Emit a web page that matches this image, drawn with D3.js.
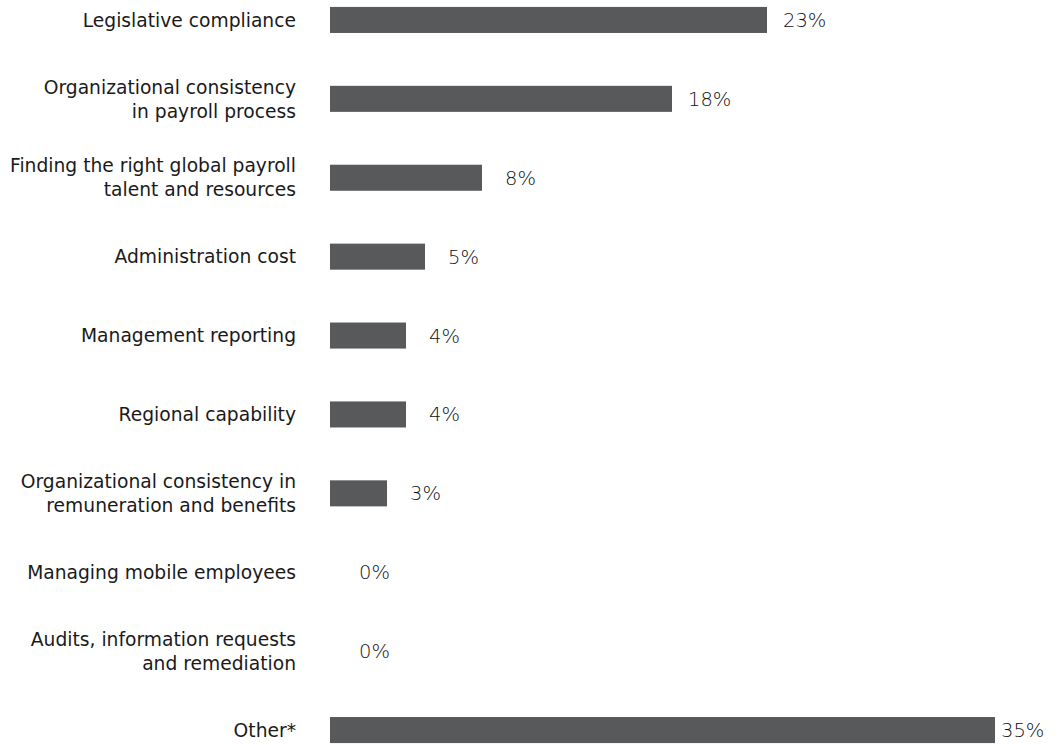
<!DOCTYPE html>
<html><head><meta charset="utf-8">
<script src="https://cdn.jsdelivr.net/npm/d3@7"></script>
<style>body{margin:0;background:#fff}svg{display:block}</style>
</head><body>
<svg id="chart" width="1061" height="745"></svg>
<script>
const categories = [
  "Legislative compliance",
  "Organizational consistency\nin payroll process",
  "Finding the right global payroll\ntalent and resources",
  "Administration cost",
  "Management reporting",
  "Regional capability",
  "Organizational consistency in\nremuneration and benefits",
  "Managing mobile employees",
  "Audits, information requests\nand remediation",
  "Other*"
];
const values = [23, 18, 8, 5, 4, 4, 3, 0, 0, 35];
const valueLabels = ["23%", "18%", "8%", "5%", "4%", "4%", "3%", "0%", "0%", "35%"];

const W = 1061, H = 745;
const svg = d3.select("#chart");
const x = d3.scaleLinear().domain([0, 35]).range([330, 995]);
const y = d3.scaleBand().domain(d3.range(categories.length)).range([-19.5, 769.5]).paddingInner(0.67).paddingOuter(0.335);

const rows = svg.selectAll("g.row").data(categories.map((c, i) => ({c, v: values[i], l: valueLabels[i], i})))
  .enter().append("g").attr("class", "row");

rows.append("rect")
  .attr("x", x(0))
  .attr("y", d => y(d.i))
  .attr("width", d => x(d.v) - x(0))
  .attr("height", y.bandwidth())
  .attr("fill", "#58595b");

rows.each(function(d) {
  const g = d3.select(this);
  const lines = d.c.split("\n");
  const cy = y(d.i) + y.bandwidth() / 2;
  const lh = 24;
  const t = g.append("text")
    .attr("x", 296)
    .attr("text-anchor", "end")
    .attr("font-family", "'DejaVu Sans', sans-serif")
    .attr("font-size", 18.7)
    .attr("fill", "#1a1a1a");
  lines.forEach((ln, k) => {
    t.append("tspan").attr("x", 296)
      .attr("y", cy + (k - (lines.length - 1) / 2) * lh)
      .attr("dy", "0.36em")
      .text(ln);
  });
  let lx = x(d.v) + (d.v === 0 ? 29 : d.v < 10 ? 23 : 16);
  lx = Math.min(lx, 1001);
  g.append("text")
    .attr("x", lx)
    .attr("y", cy)
    .attr("dy", "0.36em")
    .attr("font-family", "'DejaVu Sans', sans-serif")
    .attr("font-weight", 200)
    .attr("font-size", 19.5)
    .attr("fill", "#111")
    .text(d.l);
});
</script>
</body></html>
